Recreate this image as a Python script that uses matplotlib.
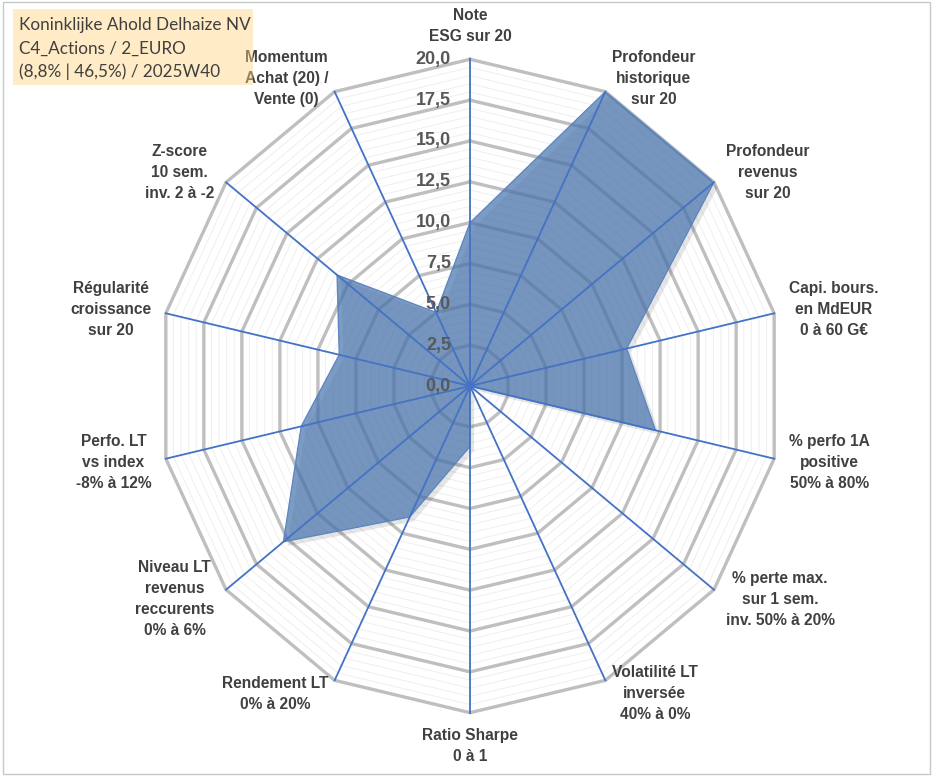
import numpy as np
import matplotlib
matplotlib.use('Agg')
import matplotlib.pyplot as plt
from matplotlib.patches import Rectangle
from matplotlib.transforms import ScaledTranslation

axis_labels = [
    'Note\nESG sur 20',
    'Profondeur\nhistorique\nsur 20',
    'Profondeur\nrevenus\nsur 20',
    'Capi. bours.\nen MdEUR\n0 à 60 G€',
    '% perfo 1A\npositive\n50% à 80%',
    '% perte max.\nsur 1 sem.\ninv. 50% à 20%',
    'Volatilité LT\ninversée\n40% à 0%',
    'Ratio Sharpe\n0 à 1',
    'Rendement LT\n0% à 20%',
    'Niveau LT\nrevenus\nreccurents\n0% à 6%',
    'Perfo. LT\nvs index\n-8% à 12%',
    'Régularité\ncroissance\nsur 20',
    'Z-score\n10 sem.\ninv. 2 à -2',
    'Momentum\nAchat (20) /\nVente (0)',
]
scores = [10.0, 20.0, 20.0, 10.3, 12.2, 0.0, 0.0, 3.7, 8.9, 15.3, 11.1, 8.6, 10.9, 5.0]
tick_values = [0.0, 2.5, 5.0, 7.5, 10.0, 12.5, 15.0, 17.5, 20.0]
title_lines = ['Koninklijke Ahold Delhaize NV', 'C4_Actions / 2_EURO', '(8,8% | 46,5%) / 2025W40']

plt.rcParams['font.family'] = ['Liberation Sans', 'DejaVu Sans']

n = len(axis_labels)
theta = np.linspace(0, 2 * np.pi, n, endpoint=False)
theta_closed = np.append(theta, theta[0])

fig = plt.figure(figsize=(9.33, 7.76), dpi=100)
# polar axes stretched a little: the original is slightly narrower than tall
ax = fig.add_axes([158 / 933, 1 - 712.7 / 776, 624 / 933, 653.4 / 776], projection='polar')
ax.set_aspect('auto')
ax.set_theta_zero_location('N')
ax.set_theta_direction(-1)
ax.set_ylim(0, 20)
ax.grid(False)
ax.set_xticks([])
ax.set_yticks([])
ax.spines['polar'].set_visible(False)
ax.patch.set_visible(False)

# polygon rings, minor every 0.5, major every 2.5
for r in np.arange(0.5, 20.01, 0.5):
    major = abs(r / 2.5 - round(r / 2.5)) < 1e-6
    ax.plot(theta_closed, [r] * (n + 1),
            color='#BFBFBF' if major else '#F0F0F0',
            lw=2.4 if major else 0.75, zorder=1, clip_on=False)

# soft shadow + series fill
shadow = ax.transData + ScaledTranslation(3 / 72, -3 / 72, fig.dpi_scale_trans)
vals_closed = np.append(scores, scores[0])
ax.fill(theta_closed, vals_closed, color='black', alpha=0.10, lw=0,
        transform=shadow, zorder=2)
ax.fill(theta_closed, vals_closed, color='#4A76B0', alpha=0.72, lw=0, zorder=3)
ax.plot(theta_closed, vals_closed, color='#5B84C0', lw=0.9, zorder=4)

# spokes
for t in theta:
    ax.plot([t, t], [0, 20], color='#4472C4', lw=1.3, zorder=5, clip_on=False)

# radial tick labels
for v in tick_values:
    ax.annotate(f'{v:.1f}'.replace('.', ','), xy=(0, v), xytext=(-19, 0),
                textcoords='offset pixels', ha='right', va='center',
                fontsize=13, fontweight='bold', color='#595959', zorder=6)

# axis labels around the chart
gap = 15
for t, lab in zip(theta, axis_labels):
    s, c = np.sin(t), np.cos(t)
    if abs(s) < 0.01:
        ha = 'center'
        va = 'bottom' if c > 0 else 'top'
    else:
        ha = 'left' if s > 0 else 'right'
        va = 'center'
    ax.annotate(lab, xy=(t, 20), xytext=(gap * s, gap * c),
                textcoords='offset pixels', ha=ha, va=va, multialignment='center',
                fontsize=11.2, fontweight='bold', color='#404040',
                linespacing=1.5, zorder=6, annotation_clip=False)

# title box (drawn over the chart, slightly transparent)
fig.patches.append(Rectangle((13 / 933, 1 - 85 / 776), 240 / 933, 76 / 776,
                             transform=fig.transFigure, facecolor='#FFD37F',
                             alpha=0.45, edgecolor='none', zorder=10))
for i, line in enumerate(title_lines):
    fig.text(19 / 933, 1 - (25 + i * 23.5) / 776, line, ha='left', va='center',
             fontsize=12.3, color='#404040', family=['Lato', 'DejaVu Sans'], zorder=11)

# thin outer frame
fig.patches.append(Rectangle((3 / 933, 2 / 776), 927 / 933, 772 / 776,
                             transform=fig.transFigure, fill=False,
                             edgecolor='#C8C8C8', lw=1))

fig.savefig('out.png', dpi=100)
